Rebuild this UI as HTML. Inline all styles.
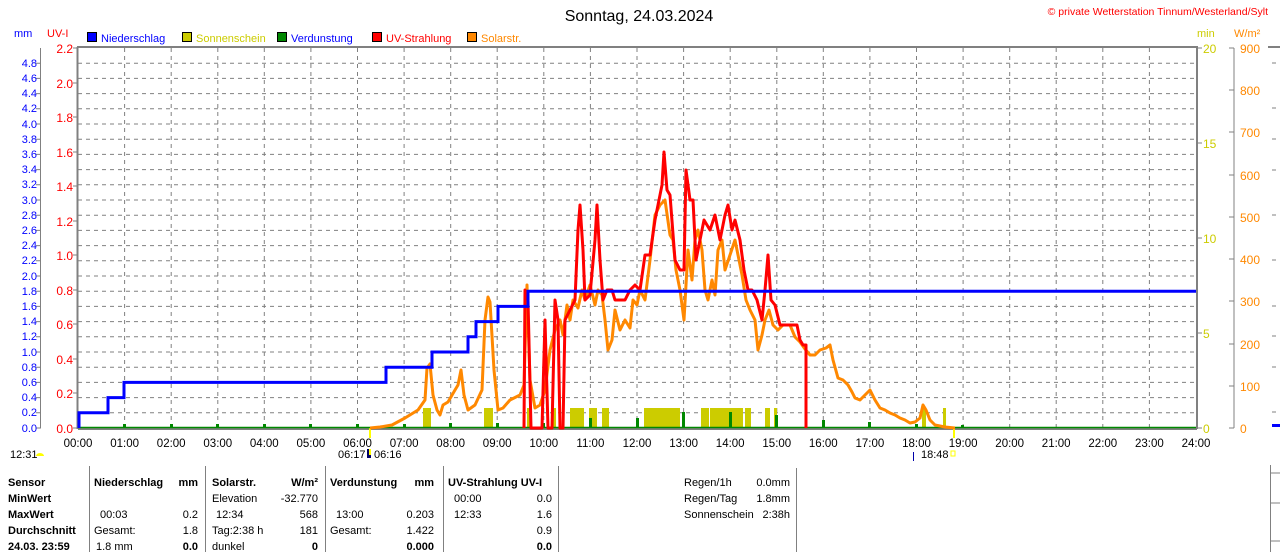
<!DOCTYPE html>
<html><head><meta charset="utf-8"><style>
body{margin:0;background:#fff;width:1280px;height:552px;overflow:hidden}
svg{display:block;font-family:"Liberation Sans",sans-serif;font-size:11px}
</style></head><body>
<svg width="1280" height="552" viewBox="0 0 1280 552">
<rect width="1280" height="552" fill="#fff"/>
<text x="639" y="21" font-size="16" text-anchor="middle">Sonntag, 24.03.2024</text>
<text x="1268" y="15" font-size="10.5" fill="#f00" text-anchor="end">© private Wetterstation Tinnum/Westerland/Sylt</text>
<g font-size="11">
<text x="14" y="37" fill="#00f">mm</text><text x="47" y="37" fill="#f00">UV-I</text>
<rect x="87.5" y="32.5" width="9" height="9" fill="#00f" stroke="#000"/><text x="101" y="42" fill="#00f">Niederschlag</text>
<rect x="182.5" y="32.5" width="9" height="9" fill="#cc0" stroke="#000"/><text x="196" y="42" fill="#cc0">Sonnenschein</text>
<rect x="277.5" y="32.5" width="9" height="9" fill="#080" stroke="#000"/><text x="291" y="42" fill="#00f">Verdunstung</text>
<rect x="372.5" y="32.5" width="9" height="9" fill="#f00" stroke="#000"/><text x="386" y="42" fill="#f00">UV-Strahlung</text>
<rect x="467.5" y="32.5" width="9" height="9" fill="#f80" stroke="#000"/><text x="481" y="42" fill="#f80">Solarstr.</text>
<text x="1197" y="37" fill="#cc0">min</text><text x="1234" y="37" fill="#f80">W/m²</text>
</g>
<g stroke="#808080" stroke-dasharray="4,4" stroke-width="1">
<path d="M124.6 48V428M171.2 48V428M217.8 48V428M264.3 48V428M310.9 48V428M357.5 48V428M404.1 48V428M450.7 48V428M497.2 48V428M543.8 48V428M590.4 48V428M637 48V428M683.6 48V428M730.2 48V428M776.8 48V428M823.3 48V428M869.9 48V428M916.5 48V428M963.1 48V428M1009.7 48V428M1056.2 48V428M1102.8 48V428M1149.4 48V428"/>
<path d="M78 63.2H1196M78 78.4H1196M78 93.6H1196M78 108.8H1196M78 124H1196M78 139.2H1196M78 154.4H1196M78 169.6H1196M78 184.8H1196M78 200H1196M78 215.2H1196M78 230.4H1196M78 245.6H1196M78 260.8H1196M78 276H1196M78 291.2H1196M78 306.4H1196M78 321.6H1196M78 336.8H1196M78 352H1196M78 367.2H1196M78 382.4H1196M78 397.6H1196M78 412.8H1196"/>
<path d="M1272 63H1280M1272 108H1280M1272 139H1280M1272 170H1280M1272 215H1280M1272 260H1280M1272 306H1280M1272 336H1280M1272 367H1280M1272 412H1280"/>
</g>
<g stroke="#808080" fill="none">
<path d="M77 47H1198" stroke-width="2"/>
<path d="M77.5 47V429" stroke-width="2"/>
<path d="M1197 47V429" stroke-width="2"/>
<path d="M78 429H1197" stroke-width="2"/>
<path d="M1234 48V428"/>
<path d="M1268 47H1280" stroke-width="2"/>
<path d="M40.5 48V428"/>
<path d="M36 63.2H41M36 78.4H41M36 93.6H41M36 108.8H41M36 124H41M36 139.2H41M36 154.4H41M36 169.6H41M36 184.8H41M36 200H41M36 215.2H41M36 230.4H41M36 245.6H41M36 260.8H41M36 276H41M36 291.2H41M36 306.4H41M36 321.6H41M36 336.8H41M36 352H41M36 367.2H41M36 382.4H41M36 397.6H41M36 412.8H41M36 428H41"/>
<path d="M73 48H78M73 83H78M73 117H78M73 152H78M73 186H78M73 221H78M73 255H78M73 290H78M73 324H78M73 359H78M73 393H78M73 428H78"/>
<path d="M1197 48H1202M1197 143H1202M1197 238H1202M1197 333H1202M1197 428H1202"/>
<path d="M1229 48H1234M1229 90H1234M1229 132H1234M1229 175H1234M1229 217H1234M1229 259H1234M1229 301H1234M1229 344H1234M1229 386H1234M1229 428H1234"/>
<path d="M1270.5 465V552M1270 473H1280M1270 503H1280M1270 541H1280"/>
<path d="M89.5 466V552M205.5 466V552M325.5 466V552M443.5 466V552M558.5 466V552M796.5 468V552"/>
</g>
<rect x="1272" y="424" width="8" height="3" fill="#00f"/>
<g fill="#00f" text-anchor="end">
<text x="37" y="67">4.8</text><text x="37" y="82">4.6</text><text x="37" y="97">4.4</text><text x="37" y="112">4.2</text><text x="37" y="128">4.0</text><text x="37" y="143">3.8</text><text x="37" y="158">3.6</text><text x="37" y="173">3.4</text><text x="37" y="188">3.2</text><text x="37" y="204">3.0</text><text x="37" y="219">2.8</text><text x="37" y="234">2.6</text><text x="37" y="249">2.4</text><text x="37" y="264">2.2</text><text x="37" y="280">2.0</text><text x="37" y="295">1.8</text><text x="37" y="310">1.6</text><text x="37" y="325">1.4</text><text x="37" y="340">1.2</text><text x="37" y="356">1.0</text><text x="37" y="371">0.8</text><text x="37" y="386">0.6</text><text x="37" y="401">0.4</text><text x="37" y="416">0.2</text><text x="37" y="432">0.0</text>
</g>
<g fill="#f00" text-anchor="end" font-size="12">
<text x="73" y="53">2.2</text><text x="73" y="88">2.0</text><text x="73" y="122">1.8</text><text x="73" y="157">1.6</text><text x="73" y="191">1.4</text><text x="73" y="226">1.2</text><text x="73" y="260">1.0</text><text x="73" y="295">0.8</text><text x="73" y="329">0.6</text><text x="73" y="364">0.4</text><text x="73" y="398">0.2</text><text x="73" y="433">0.0</text>
</g>
<g fill="#cc0" font-size="12">
<text x="1203" y="53">20</text><text x="1203" y="148">15</text><text x="1203" y="243">10</text><text x="1203" y="338">5</text><text x="1203" y="433">0</text>
</g>
<g fill="#f80" font-size="12">
<text x="1240" y="53">900</text><text x="1240" y="95">800</text><text x="1240" y="137">700</text><text x="1240" y="180">600</text><text x="1240" y="222">500</text><text x="1240" y="264">400</text><text x="1240" y="306">300</text><text x="1240" y="349">200</text><text x="1240" y="391">100</text><text x="1240" y="433">0</text>
</g>
<g text-anchor="middle" font-size="11.5">
<text x="78" y="447">00:00</text><text x="124.6" y="447">01:00</text><text x="171.2" y="447">02:00</text><text x="217.8" y="447">03:00</text><text x="264.3" y="447">04:00</text><text x="310.9" y="447">05:00</text><text x="357.5" y="447">06:00</text><text x="404.1" y="447">07:00</text><text x="450.7" y="447">08:00</text><text x="497.2" y="447">09:00</text><text x="543.8" y="447">10:00</text><text x="590.4" y="447">11:00</text><text x="637" y="447">12:00</text><text x="683.6" y="447">13:00</text><text x="730.2" y="447">14:00</text><text x="776.8" y="447">15:00</text><text x="823.3" y="447">16:00</text><text x="869.9" y="447">17:00</text><text x="916.5" y="447">18:00</text><text x="963.1" y="447">19:00</text><text x="1009.7" y="447">20:00</text><text x="1056.2" y="447">21:00</text><text x="1102.8" y="447">22:00</text><text x="1149.4" y="447">23:00</text><text x="1196" y="447">24:00</text>
</g>
<text x="10" y="458">12:31</text><path d="M36 456a4 3 0 0 1 8 0z" fill="#ff0"/>
<text x="338" y="458">06:17</text><rect x="367" y="449" width="4" height="9" fill="#006"/><rect x="369" y="449" width="2" height="6" fill="#ff0"/><text x="374" y="458">06:16</text>
<rect x="913" y="452" width="1" height="9" fill="#00a"/><text x="921" y="458">18:48</text><rect x="951" y="451" width="4" height="5" fill="none" stroke="#ff0"/>
<rect x="369" y="428" width="2" height="10" fill="#ff0"/><rect x="953" y="428" width="2" height="10" fill="#ff0"/>
<g fill="#cc0">
<rect x="423" y="408" width="8" height="20"/><rect x="484" y="408" width="9" height="20"/><rect x="527" y="408" width="3" height="20"/><rect x="553" y="408" width="3" height="20"/><rect x="570" y="408" width="14" height="20"/><rect x="589" y="408" width="8" height="20"/><rect x="602" y="408" width="7" height="20"/><rect x="644" y="408" width="36" height="20"/><rect x="701" y="408" width="8" height="20"/><rect x="710" y="408" width="33" height="20"/><rect x="745" y="408" width="6" height="20"/><rect x="765" y="408" width="5" height="20"/><rect x="774" y="408" width="3" height="20"/><rect x="943" y="408" width="3" height="20"/><rect x="922" y="408" width="4" height="20"/>
</g>
<g fill="#080">
<rect x="123" y="424" width="3" height="4"/><rect x="170" y="424" width="3" height="4"/><rect x="216" y="424" width="3" height="4"/><rect x="263" y="424" width="3" height="4"/><rect x="309" y="424" width="3" height="4"/><rect x="356" y="424" width="3" height="4"/><rect x="403" y="424" width="3" height="4"/><rect x="449" y="423" width="3" height="5"/><rect x="496" y="423" width="3" height="5"/><rect x="542" y="423" width="3" height="5"/><rect x="589" y="418" width="3" height="10"/><rect x="636" y="418" width="3" height="10"/><rect x="682" y="412" width="3" height="16"/><rect x="729" y="412" width="3" height="16"/><rect x="775" y="415" width="3" height="13"/><rect x="822" y="420" width="3" height="8"/><rect x="868" y="422" width="3" height="6"/><rect x="915" y="424" width="3" height="4"/><rect x="961" y="425" width="3" height="3"/>
</g>
<path d="M78 427.5H1196" stroke="#080" stroke-width="1.5"/>
<polyline fill="none" stroke="#f80" stroke-width="3" stroke-linejoin="round" points="370,428 380,427 392,425 405,418 418,410 425,400 427,368 430,364 433,395 437,410 440,415 443,405 448,402 455,390 458,385 461,370 464,395 468,410 475,405 482,390 485,320 488,297 490,302 494,370 498,410 503,408 510,400 520,395 524,385 527,285 530,380 535,408 540,405 545,390 550,350 555,330 560,320 563,335 567,305 570,320 573,300 578,308 582,290 585,300 590,285 595,305 598,290 602,295 605,320 608,350 612,340 615,310 620,330 625,320 630,328 633,300 637,305 640,290 645,300 650,260 655,215 660,205 665,200 670,235 673,240 676,270 680,290 684,320 688,250 692,280 695,240 698,230 702,250 705,290 708,300 712,280 715,295 718,250 722,240 725,270 730,255 735,240 739,260 742,275 746,300 750,310 755,320 758,350 762,335 765,320 769,310 773,325 778,330 783,325 790,325 795,337 800,342 805,349 810,355 815,355 820,350 826,348 830,345 833,360 838,378 843,380 848,385 852,392 855,398 860,400 865,395 870,390 875,400 880,408 885,410 890,413 895,415 900,418 905,420 910,423 915,422 920,418 923,405 926,410 930,420 935,425 945,427 955,428"/>
<polyline fill="none" stroke="#f00" stroke-width="3" stroke-linejoin="round" points="524,428 525,290 528,300 531,428 542,428 545,320 548,428 552,428 555,300 558,320 560,428 563,428 565,320 570,310 575,300 578,230 580,205 583,250 585,300 590,295 595,240 597,205 600,260 603,300 607,290 612,290 615,300 620,300 625,300 630,290 635,285 640,290 645,255 650,255 655,220 658,205 662,185 664,152 667,190 670,195 675,260 680,270 684,270 686,170 690,200 693,200 696,260 700,240 704,220 710,230 715,215 720,240 725,215 728,205 732,230 735,220 740,240 744,270 748,290 752,290 757,300 762,320 765,290 768,255 771,300 775,305 780,325 790,325 797,325 800,340 803,345 806,345 806,428"/>
<polyline fill="none" stroke="#00f" stroke-width="3" points="79,428 79,412.8 108,412.8 108,397.6 124,397.6 124,382.4 386,382.4 386,367.2 432,367.2 432,352 468,352 468,336.8 476,336.8 476,321.6 498,321.6 498,306.4 528,306.4 528,291.2 1196,291.2"/>
<g font-size="11">
<g font-weight="bold">
<text x="8" y="486">Sensor</text><text x="8" y="502">MinWert</text><text x="8" y="518">MaxWert</text><text x="8" y="534">Durchschnitt</text><text x="8" y="550">24.03. 23:59</text>
<text x="94" y="486">Niederschlag</text><text x="198" y="486" text-anchor="end">mm</text>
<text x="212" y="486">Solarstr.</text><text x="318" y="486" text-anchor="end">W/m²</text>
<text x="330" y="486">Verdunstung</text><text x="434" y="486" text-anchor="end">mm</text>
<text x="448" y="486">UV-Strahlung UV-I</text>
<text x="198" y="550" text-anchor="end">0.0</text><text x="318" y="550" text-anchor="end">0</text><text x="434" y="550" text-anchor="end">0.000</text><text x="552" y="550" text-anchor="end">0.0</text>
</g>
<text x="100" y="518">00:03</text><text x="198" y="518" text-anchor="end">0.2</text>
<text x="94" y="534">Gesamt:</text><text x="198" y="534" text-anchor="end">1.8</text>
<text x="96" y="550">1.8 mm</text>
<text x="212" y="502">Elevation</text><text x="318" y="502" text-anchor="end">-32.770</text>
<text x="216" y="518">12:34</text><text x="318" y="518" text-anchor="end">568</text>
<text x="212" y="534">Tag:2:38 h</text><text x="318" y="534" text-anchor="end">181</text>
<text x="212" y="550">dunkel</text>
<text x="336" y="518">13:00</text><text x="434" y="518" text-anchor="end">0.203</text>
<text x="330" y="534">Gesamt:</text><text x="434" y="534" text-anchor="end">1.422</text>
<text x="454" y="502">00:00</text><text x="552" y="502" text-anchor="end">0.0</text>
<text x="454" y="518">12:33</text><text x="552" y="518" text-anchor="end">1.6</text>
<text x="552" y="534" text-anchor="end">0.9</text>
<text x="684" y="486">Regen/1h</text><text x="790" y="486" text-anchor="end">0.0mm</text>
<text x="684" y="502">Regen/Tag</text><text x="790" y="502" text-anchor="end">1.8mm</text>
<text x="684" y="518">Sonnenschein</text><text x="790" y="518" text-anchor="end">2:38h</text>
</g>
</svg>
</body></html>
